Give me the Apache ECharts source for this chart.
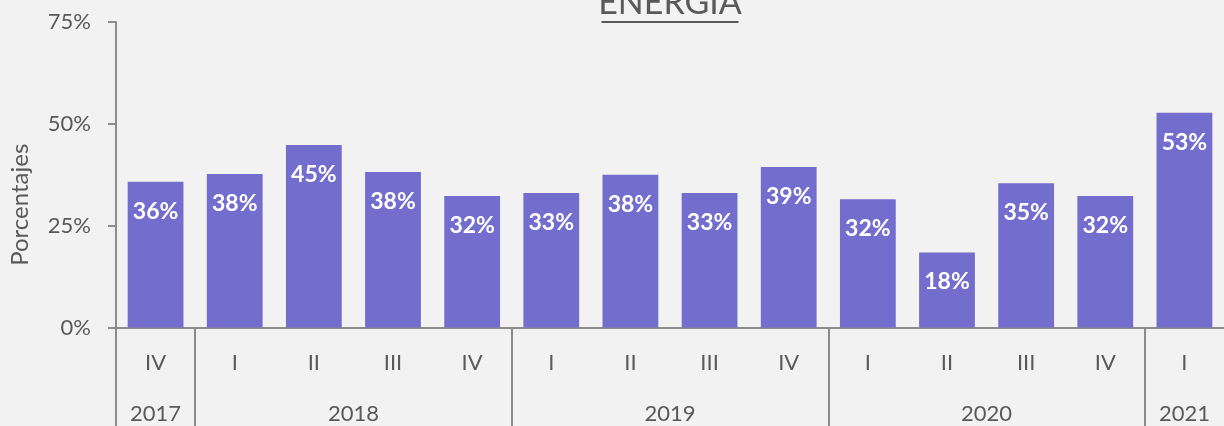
<!DOCTYPE html>
<html>
<head>
<meta charset="utf-8">
<script src="https://cdn.jsdelivr.net/npm/echarts@6/dist/echarts.min.js"></script>
<style>
html,body{margin:0;padding:0;background:#f2f2f2;}
#chart{width:1224px;height:426px;}
</style>
</head>
<body>
<div id="chart"></div>
<script>
const quarters = ['IV','I','II','III','IV','I','II','III','IV','I','II','III','IV','I'];
const values = [35.8, 37.7, 44.8, 38.2, 32.3, 33.0, 37.5, 33.0, 39.4, 31.5, 18.4, 35.4, 32.3, 52.7];
const years = ['2017','2018','2019','2020','2021'];
const yearSpans = [1, 4, 4, 4, 1];
const yTicks = [0, 25, 50, 75];

// year boundaries and centres derived from spans
const yearBounds = [0];
const yearCentres = [];
let acc = 0;
yearSpans.forEach(s => { yearCentres.push(acc + s / 2); acc += s; yearBounds.push(acc); });
const tickBounds = yearBounds.slice(0, yearBounds.length - 1);

const gray = '#8c8c8c';
const textCol = '#595959';
const font = 'Lato';

const chart = echarts.init(document.getElementById('chart'));
chart.setOption({
  backgroundColor: '#f2f2f2',
  animation: false,
  title: {
    text: '{t|ENERGÍA}\n{u|}',
    left: 665,
    textAlign: 'center',
    top: -19,
    textStyle: {
      fontWeight: 'normal',
      rich: {
        t: { fontFamily: font, fontSize: 34, fontWeight: 'normal', color: textCol, lineHeight: 35 },
        u: { width: 137, height: 2, backgroundColor: textCol, lineHeight: 2 }
      }
    }
  },
  grid: { left: 115, right: -2.4, top: 22, bottom: 98.5, containLabel: false },
  xAxis: [
    {
      type: 'category',
      data: quarters,
      axisLine: { show: true, lineStyle: { color: gray, width: 2 } },
      axisTick: { show: false },
      axisLabel: { margin: 24, fontFamily: font, fontSize: 22, color: textCol },
      splitLine: { show: false }
    },
    {
      type: 'value',
      min: 0,
      max: quarters.length,
      position: 'bottom',
      axisLine: { show: false },
      splitLine: { show: false },
      axisTick: {
        show: true,
        length: 99,
        customValues: tickBounds,
        lineStyle: { color: gray, width: 2 }
      },
      axisLabel: {
        show: true,
        margin: 75,
        customValues: yearCentres,
        fontFamily: font, fontSize: 22, color: textCol,
        formatter: function (v) {
          const i = yearCentres.findIndex(c => Math.abs(c - v) < 1e-6);
          return i >= 0 ? years[i] : '';
        }
      }
    }
  ],
  yAxis: {
    type: 'value',
    min: yTicks[0],
    max: yTicks[yTicks.length - 1],
    interval: 25,
    name: 'Porcentajes',
    nameLocation: 'middle',
    nameGap: 84,
    nameRotate: 90,
    nameTextStyle: { fontFamily: font, fontSize: 24, color: textCol, padding: [0, 60, 0, 0] },
    axisLine: { show: true, lineStyle: { color: gray, width: 2 } },
    axisTick: { show: true, length: 8, lineStyle: { color: gray, width: 2 } },
    axisLabel: { margin: 25, fontFamily: font, fontSize: 22, color: textCol, formatter: '{value}%' },
    splitLine: { show: false }
  },
  series: [{
    type: 'bar',
    data: values,
    xAxisIndex: 0,
    barCategoryGap: '29.5%',
    itemStyle: { color: '#736dcd' },
    label: {
      show: true,
      position: 'insideTop',
      distance: 18,
      fontFamily: font,
      fontWeight: 'bold',
      fontSize: 23,
      color: '#ffffff',
      formatter: p => Math.round(p.value) + '%'
    }
  }]
});
</script>
</body>
</html>
